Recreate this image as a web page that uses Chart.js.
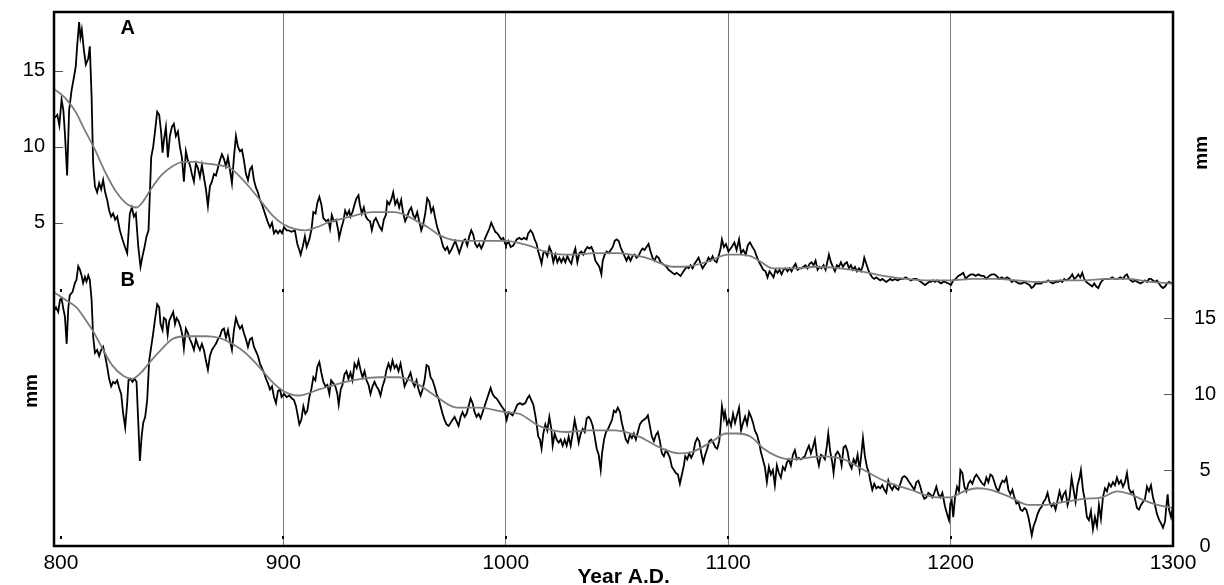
<!DOCTYPE html>
<html>
<head>
<meta charset="utf-8">
<script src="https://cdn.jsdelivr.net/npm/chart.js@4.4.1/dist/chart.umd.min.js"></script>
<style>
  html, body { margin: 0; padding: 0; background: #fff; }
  #wrap { width: 1224px; height: 585px; }
</style>
</head>
<body>
<div id="wrap"><canvas id="chart" width="1224" height="585"></canvas></div>
<script>
// tick labels
const xTicks = [800, 900, 1000, 1100, 1200, 1300];
const yTicksA = [5, 10, 15];
const yTicksB = [0, 5, 10, 15];

// series A, raw (year, mm)
const rawA = [
  [797.3,11.9],[798.4,12.1],[799.3,11.4],[800.3,13.1],[801.1,12.4],[801.8,10.9],[802.8,8.1],[803.7,12.4],[804.8,13.7],[805.9,14.6],
  [806.7,15.3],[807.3,16.6],[808.2,18.2],[808.8,17.2],[809.4,17.7],[810.3,16.4],[811.2,15.4],[812.3,15.8],[813.0,16.6],[813.8,13.3],
  [814.5,8.9],[815.3,7.4],[816.3,7.0],[817.2,7.6],[818.1,7.2],[819.0,7.8],[819.9,7.0],[820.8,6.5],[821.7,5.8],[822.6,5.4],
  [823.5,5.6],[824.4,5.2],[825.3,5.4],[826.5,4.5],[827.7,3.9],[828.8,3.4],[829.8,3.0],[830.4,4.3],[831.0,5.6],[831.9,6.0],
  [832.8,5.4],[833.7,5.6],[834.8,3.4],[835.8,2.1],[836.7,2.8],[837.6,3.4],[838.5,4.1],[839.4,4.5],[840.0,6.9],[840.6,9.3],
  [841.5,10.0],[842.4,11.1],[843.3,12.3],[844.2,12.1],[845.1,10.9],[845.7,9.6],[846.3,10.4],[847.2,11.3],[848.1,9.3],[849.0,10.7],
  [849.9,11.3],[850.8,11.5],[851.7,10.7],[852.6,11.0],[853.5,10.0],[854.4,9.3],[855.3,7.7],[856.2,9.7],[857.1,9.1],[858.0,8.8],
  [858.9,8.2],[859.8,7.7],[860.7,8.9],[861.6,8.6],[862.5,8.0],[863.4,8.8],[864.3,8.0],[865.2,7.2],[866.1,6.1],[867.0,7.4],
  [867.9,7.7],[868.8,8.2],[869.7,8.1],[870.6,8.6],[871.5,9.1],[872.4,9.5],[873.3,9.2],[874.2,8.7],[875.1,9.3],[876.0,8.5],
  [876.9,7.6],[877.8,9.3],[878.7,10.7],[879.6,10.0],[880.5,9.7],[881.4,9.8],[882.3,9.1],[883.2,8.2],[884.1,7.8],[885.0,8.5],
  [885.9,8.7],[886.8,7.8],[887.7,7.3],[888.6,7.0],[889.5,6.5],[890.4,6.2],[891.3,5.8],[892.2,5.4],[893.1,5.0],[894.0,4.7],
  [894.9,5.0],[895.8,4.3],[896.7,4.5],[897.6,4.3],[898.5,4.5],[899.4,4.3],[900.3,4.7],[901.5,4.5],
  [902.2,4.5],[903.7,4.4],[905.2,4.5],[906.3,3.6],[907.2,3.2],[907.8,2.9],[908.7,3.4],[909.7,4.1],[910.5,3.4],[911.7,3.9],
  [912.7,4.6],[913.5,5.7],[914.5,5.6],[915.3,6.3],[916.2,6.7],[917.1,6.2],[918.0,5.3],[919.2,5.1],[920.2,5.2],[921.0,4.6],
  [921.8,5.5],[922.7,5.1],[923.7,5.2],[924.7,4.5],[925.1,4.0],[926.2,4.7],[927.0,5.1],[927.8,5.8],[928.7,5.5],[929.6,5.8],
  [930.2,5.4],[931.1,5.7],[932.2,6.3],[932.9,6.6],[933.8,6.8],[934.4,6.2],[935.3,5.6],[936.2,6.0],[937.1,5.4],[938.0,5.2],
  [939.0,5.1],[939.8,4.5],[940.7,5.1],[941.6,5.3],[942.5,5.0],[943.4,4.7],[944.3,4.5],[945.2,5.2],[946.1,5.5],[946.7,6.4],
  [947.6,6.2],[948.5,6.5],[949.4,7.0],[950.3,6.2],[951.2,6.5],[952.1,6.0],[953.0,6.5],[953.9,5.6],[954.8,5.1],[955.7,5.4],
  [956.6,5.8],[957.5,6.0],[958.4,5.5],[959.3,5.3],[960.2,5.7],[961.1,5.1],[962.0,4.5],[962.9,4.9],[963.8,5.6],[964.7,6.6],
  [965.6,6.4],[966.5,5.7],[967.4,6.0],[968.3,5.3],[969.2,4.7],[970.1,4.3],[971.0,3.9],[971.9,3.4],[972.8,3.2],[973.7,3.4],
  [974.6,3.0],[975.5,3.2],[976.4,3.5],[977.3,3.8],[978.2,3.4],[979.1,3.0],[980.0,3.4],[980.9,3.8],[981.8,3.9],[982.7,3.5],
  [983.6,4.1],[984.5,4.5],[985.4,4.2],[986.3,3.6],[987.2,3.4],[988.1,3.6],[989.0,3.3],[989.9,3.6],[990.8,4.0],[991.7,4.3],
  [992.6,4.6],[993.5,5.0],[994.4,4.7],[995.3,4.4],[996.2,4.3],[997.1,4.1],[998.0,3.9],[998.9,4.0],[999.8,3.6],
  [1000.1,3.5],[1001.1,3.8],[1002.2,3.4],[1003.4,3.5],[1004.9,3.9],[1006.1,4.0],[1007.1,3.9],[1008.2,4.0],[1009.4,3.9],[1010.1,4.3],
  [1011.2,4.5],[1012.1,4.3],[1013.0,3.9],[1013.9,3.6],[1014.6,3.1],[1015.4,2.7],[1016.1,2.3],[1016.9,3.0],[1017.8,3.1],[1018.7,2.8],
  [1019.6,3.4],[1020.5,3.1],[1021.4,2.4],[1022.3,2.9],[1023.2,2.4],[1024.1,2.7],[1025.0,2.4],[1025.9,2.7],[1026.8,2.4],[1027.7,2.8],
  [1028.6,2.5],[1029.5,2.3],[1030.4,2.9],[1031.3,3.3],[1032.2,2.4],[1033.1,3.0],[1034.0,3.1],[1034.9,2.9],[1035.8,3.2],[1036.7,3.4],
  [1037.6,3.3],[1038.5,3.4],[1039.4,3.1],[1040.3,2.5],[1041.2,2.3],[1042.1,2.1],[1043.0,1.6],[1043.6,2.5],[1044.5,2.9],[1045.4,3.1],
  [1046.3,3.0],[1047.2,3.2],[1048.1,3.4],[1049.0,3.8],[1049.9,3.9],[1050.8,3.8],[1051.6,3.4],[1052.5,3.1],[1053.4,2.8],[1054.3,2.5],
  [1055.2,2.8],[1056.1,2.5],[1057.0,2.8],[1057.9,2.9],[1058.8,2.7],[1059.7,2.8],[1060.6,3.1],[1061.5,3.3],[1062.4,3.2],[1063.3,3.4],
  [1064.2,3.6],[1065.1,3.1],[1066.0,2.7],[1066.9,2.5],[1067.8,2.8],[1068.7,2.7],[1069.6,2.4],[1070.5,2.3],[1071.4,2.2],[1072.3,2.1],
  [1073.2,1.9],[1074.1,1.8],[1075.0,1.7],[1075.9,1.6],[1076.8,1.7],[1077.7,1.6],[1078.6,1.5],[1079.5,1.7],[1080.4,1.9],[1081.3,2.1],
  [1082.2,2.0],[1083.1,2.2],[1084.0,2.0],[1084.9,2.3],[1085.8,2.5],[1086.7,2.7],[1087.6,2.3],[1088.5,2.0],[1089.4,2.2],[1090.3,2.4],
  [1091.2,2.7],[1092.1,2.5],[1093.0,2.8],[1093.9,2.5],[1094.8,2.4],[1095.7,2.8],[1096.6,3.3],[1097.2,3.9],[1098.1,3.4],[1099.0,3.6],
  [1099.9,3.2],
  [1100.1,3.1],[1101.6,3.4],[1102.8,3.7],[1103.8,3.2],[1104.9,3.9],[1105.8,3.0],[1106.8,3.2],[1107.9,2.9],[1108.8,3.5],[1109.8,3.7],
  [1110.9,3.4],[1111.8,3.2],[1112.8,2.8],[1113.9,2.4],[1114.7,2.2],[1115.8,1.9],[1116.8,1.8],[1117.7,1.4],[1118.6,1.8],[1119.5,1.6],
  [1120.4,1.4],[1121.3,1.9],[1122.2,1.7],[1123.1,1.9],[1124.0,1.6],[1124.9,1.9],[1125.8,2.0],[1126.7,1.8],[1127.6,2.0],[1128.5,1.8],
  [1129.4,2.1],[1130.3,2.3],[1131.2,1.9],[1132.1,2.0],[1133.0,2.0],[1133.9,2.1],[1134.8,2.2],[1135.7,2.0],[1136.6,2.3],[1137.5,2.4],
  [1138.4,2.2],[1139.3,2.5],[1140.2,1.9],[1141.1,2.1],[1142.0,2.0],[1142.9,2.2],[1143.8,1.9],[1144.7,2.5],[1145.3,2.9],[1146.2,2.4],
  [1147.1,2.1],[1148.0,1.8],[1148.9,2.2],[1149.8,2.1],[1150.7,2.4],[1151.6,2.1],[1152.5,2.3],[1153.4,2.4],[1154.3,2.0],[1155.2,2.2],
  [1156.1,1.9],[1157.0,2.1],[1157.9,1.8],[1158.8,2.0],[1159.7,1.8],[1160.6,2.2],[1161.2,2.7],[1162.1,2.3],[1163.0,1.9],[1163.9,1.6],
  [1164.8,1.4],[1165.7,1.3],[1166.6,1.4],[1167.5,1.3],[1168.4,1.2],[1169.3,1.3],[1170.2,1.2],[1171.1,1.1],[1172.0,1.2],[1172.9,1.3],
  [1173.8,1.2],[1175.0,1.3],[1176.2,1.2],[1177.4,1.3],[1178.6,1.3],[1179.8,1.4],[1181.0,1.3],[1182.2,1.2],[1183.4,1.3],[1184.6,1.3],
  [1185.8,1.2],[1186.7,1.1],[1187.6,1.0],[1188.5,0.9],[1189.4,1.0],[1190.3,1.1],[1191.2,1.1],[1192.1,1.2],[1193.0,1.1],[1193.9,1.2],
  [1194.8,1.1],[1195.7,1.0],[1196.6,1.1],
  [1197.5,1.1],[1199.0,1.0],[1200.2,0.9],[1201.2,1.2],[1202.3,1.3],[1203.5,1.5],[1204.7,1.6],[1205.7,1.7],[1206.8,1.3],[1208.0,1.5],
  [1209.2,1.6],[1210.2,1.6],[1211.3,1.5],[1212.5,1.6],[1213.7,1.5],[1214.9,1.5],[1216.1,1.3],[1217.3,1.5],[1218.5,1.6],[1219.7,1.6],
  [1220.7,1.5],[1221.8,1.3],[1223.0,1.4],[1224.2,1.3],[1225.4,1.4],[1226.6,1.3],[1227.5,1.1],[1228.4,1.2],[1229.6,1.1],[1230.8,1.0],
  [1232.0,1.0],[1233.2,1.1],[1234.3,1.0],[1235.5,0.9],[1236.4,0.7],[1237.3,0.8],[1238.2,1.0],[1239.4,1.0],[1240.6,1.0],[1241.8,1.1],
  [1243.0,1.1],[1243.9,1.2],[1244.8,1.1],[1246.0,1.0],[1247.2,1.1],[1248.4,1.1],[1249.3,1.2],[1250.2,1.1],[1251.1,1.3],[1252.0,1.2],
  [1253.0,1.3],[1253.8,1.4],[1254.7,1.6],[1255.6,1.3],[1256.5,1.4],[1257.4,1.6],[1258.3,1.4],[1259.2,1.7],[1260.1,1.3],[1261.0,1.1],
  [1261.9,1.0],[1262.8,0.9],[1263.7,0.8],[1264.6,1.0],[1265.5,0.8],[1266.4,0.7],[1267.3,1.0],[1268.2,1.2],[1269.1,1.3],[1270.3,1.3],
  [1271.5,1.3],[1272.7,1.4],[1273.9,1.3],[1275.1,1.3],[1276.3,1.4],[1277.5,1.3],[1278.4,1.5],[1279.3,1.6],[1280.2,1.3],[1281.1,1.2],
  [1282.0,1.1],[1282.9,1.2],[1284.1,1.1],[1285.3,1.0],[1286.5,1.1],[1287.4,1.2],[1288.3,1.1],[1289.2,1.3],[1290.1,1.3],[1291.0,1.2],
  [1291.9,1.1],[1292.8,1.2],[1293.7,1.0],[1294.7,0.8],[1295.5,0.7],[1296.4,0.8],[1297.3,1.0],[1298.2,1.1],[1299.1,1.0],[1300.0,1.1]
];

// series A, smoothed
const smoothA = [
  [796.9,13.8],[802,13.2],[807,12.2],[810,11.3],[815,9.9],[820,8.3],[825,7.0],[830,6.2],[834,6.0],[837,6.4],
  [840,7.1],[845,8.1],[850,8.7],[855,9.0],[860,9.0],[865,8.9],[870,8.8],[876,8.6],[880,8.1],[885,7.3],
  [890,6.4],[895,5.5],[900,4.9],[905,4.6],[910,4.5],[915,4.7],[920,5.0],[930,5.4],[940,5.7],[950,5.7],
  [955,5.5],[960,5.1],[965,4.7],[970,4.2],[975,3.9],[980,3.8],[990,3.8],[1000,3.8],[1010,3.5],[1020,3.0],
  [1030,2.9],[1040,3.0],[1050,3.0],[1060,2.8],[1065,2.6],[1070,2.3],[1075,2.1],[1080,2.1],[1090,2.4],[1100,2.9],
  [1105,2.9],[1110,2.8],[1115,2.4],[1120,2.0],[1130,2.0],[1140,2.1],[1150,2.0],[1160,1.8],[1170,1.5],[1180,1.3],
  [1190,1.2],[1200,1.2],[1210,1.3],[1220,1.3],[1230,1.2],[1240,1.1],[1250,1.2],[1260,1.2],[1270,1.3],[1280,1.3],
  [1290,1.1],[1300,1.0]
];

// series B, raw (year, mm)
const rawB = [
  [796.9,15.5],[797.8,15.7],[798.8,15.4],[799.6,16.2],[800.3,16.3],[801.1,15.6],[801.8,15.1],[802.6,13.3],[803.3,15.6],[804.0,16.5],
  [805.2,16.7],[806.3,17.3],[807.0,17.5],[807.8,18.4],[808.5,18.2],[809.3,17.8],[810.0,17.3],[810.8,17.7],[811.5,17.4],[812.3,17.8],
  [813.0,17.5],[813.8,16.2],[814.5,13.8],[815.3,12.7],[816.3,12.9],[817.2,12.5],[818.1,12.9],[819.0,13.1],[819.9,12.5],[820.8,11.8],
  [821.7,11.0],[822.6,10.5],[823.5,10.8],[824.4,10.7],[825.3,10.9],[826.2,10.4],[827.1,10.0],[828.0,8.7],[828.9,7.8],[829.8,9.4],
  [830.4,10.9],[831.3,11.0],[832.2,10.8],[833.1,11.0],[834.0,10.8],[834.8,8.1],[835.5,5.6],[836.3,7.2],[837.0,8.1],[837.9,8.5],
  [838.8,9.6],[839.7,12.2],[840.8,13.3],[841.5,14.0],[842.3,14.9],[843.3,15.9],[844.2,15.7],[844.8,14.6],[845.7,14.2],[846.3,15.0],
  [847.2,14.9],[848.0,13.9],[848.7,14.8],[849.6,15.1],[850.5,15.4],[851.3,14.6],[852.0,15.0],[852.9,14.8],[853.8,14.4],[854.7,13.8],
  [855.3,13.0],[856.2,14.3],[857.1,14.0],[858.0,13.6],[858.9,13.3],[859.8,12.9],[860.7,13.6],[861.6,13.2],[862.5,12.9],[863.4,13.3],
  [864.3,12.9],[865.2,12.2],[866.1,11.6],[867.0,12.5],[867.9,12.9],[868.8,13.1],[869.7,13.3],[870.6,13.6],[871.5,13.8],[872.4,14.2],
  [873.3,14.3],[874.2,13.7],[875.1,14.2],[876.0,13.5],[876.9,12.9],[877.8,14.2],[878.7,15.0],[879.6,14.6],[880.5,14.3],[881.4,14.5],
  [882.3,14.0],[883.2,13.6],[884.1,13.1],[885.0,13.6],[885.9,13.7],[886.8,13.1],[887.7,12.8],[888.6,12.5],[889.5,12.0],[890.4,11.7],
  [891.3,11.4],[892.2,11.0],[893.1,10.7],[894.0,10.3],[894.9,10.5],[895.8,9.8],[896.7,9.4],[897.6,10.2],
  [898.5,10.3],[899.2,9.8],[900.3,10.0],[901.5,9.8],[902.7,9.9],[903.9,9.7],[904.8,9.6],[905.7,9.2],[906.6,8.5],[907.2,8.0],
  [908.1,8.3],[909.0,9.2],[909.9,8.7],[910.8,8.9],[911.7,9.8],[912.6,10.3],[913.5,11.1],[914.4,10.9],[915.3,11.8],[916.2,12.1],
  [917.1,11.4],[918.0,10.8],[918.9,10.5],[919.8,10.6],[920.7,10.0],[921.5,10.9],[922.5,10.7],[923.4,10.5],[924.3,10.0],[924.9,9.3],
  [925.8,10.3],[926.6,10.6],[927.5,11.3],[928.4,11.5],[929.3,11.0],[930.2,11.4],[931.1,10.9],[932.0,12.0],[933.0,11.7],[933.8,12.2],
  [934.7,11.6],[935.6,11.1],[936.5,11.5],[937.4,10.9],[938.3,10.6],[939.2,10.0],[940.1,10.5],[941.0,10.8],[941.9,10.5],[942.8,10.3],
  [943.7,9.9],[944.6,10.5],[945.5,10.9],[946.4,11.6],[947.3,12.0],[948.2,11.6],[949.1,12.2],[950.0,11.7],[950.9,11.9],[951.8,11.5],
  [952.7,12.0],[953.6,11.3],[954.5,10.5],[955.4,10.8],[956.3,11.1],[957.2,11.4],[958.1,10.8],[959.0,10.5],[959.9,10.9],[960.8,10.3],
  [961.7,9.9],[962.6,10.3],[963.5,10.9],[964.4,11.9],[965.3,11.8],[966.2,11.1],[967.1,10.9],[968.0,10.5],[968.9,10.0],[969.8,9.7],
  [970.7,9.2],[971.6,8.7],[972.5,8.3],[973.4,8.0],[974.3,7.9],[975.2,8.1],[976.1,8.3],[977.0,8.5],[977.9,8.2],[978.8,7.9],
  [979.7,8.5],[980.6,8.8],[981.5,8.5],[982.4,8.7],[983.3,9.2],[984.2,9.7],[985.1,9.4],[986.0,8.8],[986.9,8.5],[987.8,8.7],
  [988.7,8.4],[989.6,8.8],[990.5,9.2],[991.4,9.6],[992.3,10.0],[993.2,10.4],[994.1,10.0],[995.0,9.8],[995.9,9.7],[996.8,9.5],
  [997.7,9.3],[998.6,9.1],[999.5,8.9],
  [1000.4,8.3],[1001.3,8.8],[1002.2,8.7],[1003.1,8.6],[1004.1,8.9],[1005.2,9.3],[1006.4,9.4],[1007.6,9.3],[1008.8,9.4],[1009.7,9.7],
  [1010.6,9.9],[1011.5,9.6],[1012.4,9.3],[1013.3,8.6],[1013.9,8.0],[1014.6,7.2],[1015.4,7.0],[1016.1,6.4],[1016.9,7.4],[1017.8,8.0],
  [1018.7,7.6],[1019.6,8.5],[1020.5,7.7],[1021.1,6.6],[1022.0,7.4],[1022.9,7.0],[1023.8,6.8],[1024.7,7.0],[1025.6,6.6],[1026.5,7.0],
  [1027.4,6.6],[1028.3,7.2],[1029.2,6.6],[1030.1,7.4],[1031.0,8.3],[1031.9,7.6],[1032.8,6.8],[1033.7,7.4],[1034.6,7.7],[1035.5,7.5],
  [1036.4,8.4],[1037.3,8.5],[1038.2,8.3],[1039.1,7.9],[1040.0,7.2],[1040.9,6.4],[1041.8,6.0],[1042.7,5.0],[1043.3,6.1],[1044.2,7.0],
  [1045.1,7.5],[1046.0,7.7],[1046.9,8.0],[1047.8,8.3],[1048.6,8.9],[1049.5,8.8],[1050.4,9.1],[1051.4,8.8],[1052.2,8.1],[1053.2,7.5],
  [1054.0,7.0],[1054.9,6.8],[1055.8,7.3],[1056.7,7.1],[1057.6,7.4],[1058.5,7.0],[1059.4,7.5],[1060.3,8.0],[1061.2,8.2],[1062.1,8.3],
  [1063.0,8.4],[1063.9,8.6],[1064.8,7.9],[1065.7,7.2],[1066.6,6.9],[1067.5,7.3],[1068.4,7.5],[1069.3,6.9],[1070.2,6.1],[1071.1,5.9],
  [1072.0,6.3],[1072.9,6.1],[1073.8,5.8],[1074.7,5.2],[1075.6,5.0],[1076.5,4.8],[1077.4,4.7],[1078.3,4.1],[1079.2,4.7],[1080.1,5.3],
  [1080.7,5.9],[1081.6,5.7],[1082.5,6.1],[1083.4,5.8],[1084.3,6.1],[1085.2,6.8],[1086.1,7.1],[1087.0,6.9],[1087.9,6.1],[1088.8,5.5],
  [1089.7,6.0],[1090.6,6.4],[1091.5,6.9],[1092.4,7.0],[1093.3,6.8],[1094.2,6.5],[1095.1,6.4],[1096.0,6.9],[1096.6,7.9],[1097.2,9.2],
  [1098.1,8.4],
  [1098.6,8.8],[1099.5,8.0],[1100.4,8.3],[1101.3,7.9],[1102.2,8.7],[1103.1,8.1],[1104.0,8.6],[1104.9,9.1],[1105.8,7.6],[1106.7,8.1],
  [1107.6,8.5],[1108.5,8.0],[1109.4,8.8],[1110.3,8.5],[1111.2,8.1],[1112.0,7.6],[1113.0,7.3],[1113.9,6.8],[1114.7,6.2],[1115.6,5.7],
  [1116.5,5.2],[1117.4,4.2],[1118.3,5.2],[1119.2,4.7],[1120.1,5.0],[1121.0,4.0],[1121.9,5.3],[1122.8,4.8],[1123.7,4.5],[1124.6,5.2],
  [1125.5,5.0],[1126.4,5.5],[1127.3,5.7],[1128.2,5.3],[1129.1,6.0],[1130.0,6.3],[1130.9,5.7],[1131.8,5.8],[1132.7,5.7],[1133.6,5.8],
  [1134.5,5.9],[1135.4,6.3],[1136.3,6.6],[1137.2,6.1],[1138.1,6.5],[1139.0,7.0],[1139.9,5.9],[1140.8,5.3],[1141.7,6.0],[1142.6,5.9],
  [1143.5,5.7],[1144.4,6.6],[1145.0,7.4],[1145.9,6.2],[1146.8,5.5],[1147.4,4.8],[1148.3,6.0],[1149.2,6.2],[1150.1,6.0],[1151.0,5.3],
  [1151.9,6.5],[1152.8,6.6],[1153.7,6.2],[1154.6,5.4],[1155.5,5.1],[1156.4,5.7],[1157.3,5.4],[1158.2,6.0],[1159.1,5.0],[1160.0,6.2],
  [1160.6,7.1],[1161.5,5.9],[1162.4,5.2],[1163.3,4.8],[1163.9,4.3],[1164.8,3.7],[1165.7,4.1],[1166.6,3.8],[1167.5,3.9],[1168.4,3.8],
  [1169.3,4.0],[1170.2,3.7],[1171.1,3.5],[1172.0,4.3],[1172.9,3.9],[1173.8,3.7],[1174.7,4.0],[1175.6,3.8],[1176.5,3.7],[1177.4,4.1],
  [1178.3,4.5],[1179.2,4.6],[1180.1,4.5],[1181.0,4.3],[1181.9,4.1],[1182.8,3.9],[1183.7,3.7],[1184.6,4.2],[1185.5,4.3],[1186.4,3.9],
  [1187.3,3.4],[1188.2,3.1],[1189.1,3.2],[1190.0,3.5],[1190.9,3.4],[1191.8,3.2],[1192.7,3.5],[1193.6,3.9],[1194.5,3.4],[1195.4,3.2],
  [1196.3,3.5],
  [1197.5,2.6],[1198.4,2.1],[1199.3,1.7],[1199.9,2.8],[1200.5,3.0],[1201.2,1.9],[1202.0,3.2],[1202.9,3.9],[1203.8,3.6],[1204.4,5.0],
  [1205.3,4.8],[1206.2,3.9],[1207.1,3.6],[1208.0,4.1],[1208.9,4.3],[1209.8,4.1],[1210.7,4.5],[1211.6,4.7],[1212.5,4.5],[1213.4,4.3],
  [1214.3,4.1],[1215.2,4.0],[1216.1,4.5],[1217.0,4.2],[1217.9,4.7],[1218.8,4.6],[1219.7,4.2],[1220.6,3.8],[1221.5,3.6],[1222.4,4.0],
  [1223.3,4.3],[1224.2,4.2],[1225.1,4.5],[1226.0,3.7],[1226.9,3.4],[1227.8,3.7],[1228.7,3.2],[1229.6,2.8],[1230.5,2.9],[1231.4,2.4],
  [1232.3,2.3],[1233.2,2.5],[1234.0,2.4],[1235.0,1.9],[1235.9,1.2],[1236.5,0.7],[1237.3,1.3],[1238.3,1.7],[1239.1,2.1],[1240.0,2.4],
  [1241.0,2.6],[1241.8,2.9],[1242.7,3.1],[1243.6,3.5],[1244.5,2.9],[1245.4,2.6],[1246.3,2.8],[1247.2,2.4],[1248.1,3.0],[1249.0,3.6],
  [1250.0,3.0],[1250.8,3.4],[1251.7,3.6],[1252.6,2.7],[1253.5,3.2],[1254.4,4.5],[1255.3,3.7],[1256.2,2.9],[1257.1,4.0],[1258.0,4.5],
  [1258.6,5.0],[1259.5,3.7],[1260.4,3.0],[1261.3,1.9],[1262.2,1.7],[1263.1,2.3],[1264.0,1.1],[1264.9,1.9],[1265.8,1.3],[1266.7,2.7],
  [1267.6,1.8],[1268.5,3.2],[1269.4,3.8],[1270.3,3.6],[1271.2,4.1],[1272.1,3.9],[1273.0,4.2],[1273.9,4.0],[1274.8,4.5],[1275.7,4.1],
  [1276.6,4.3],[1277.5,3.9],[1278.4,4.2],[1279.3,4.8],[1280.2,3.8],[1281.1,3.5],[1282.0,3.6],[1282.9,3.1],[1283.8,2.5],[1284.7,2.4],
  [1285.6,2.7],[1286.5,2.9],[1287.4,3.1],[1288.3,3.9],[1289.2,3.6],[1290.1,4.0],[1291.0,3.2],[1291.9,2.7],[1292.8,2.1],[1293.8,1.7],
  [1294.6,1.5],[1295.5,1.2],[1296.4,1.6],[1297.0,2.6],[1297.6,3.4],[1298.2,2.4],[1299.1,1.9],[1300.0,2.6]
];

// series B, smoothed
const smoothB = [
  [796.9,16.7],[802,16.2],[807,15.7],[811,14.9],[815,14.0],[819,12.9],[823,11.9],[828,11.2],[832,11.0],[836,11.4],
  [840,12.1],[845,12.9],[850,13.6],[856,13.8],[865,13.8],[871,13.7],[877,13.3],[883,12.7],[889,11.8],[895,10.8],
  [900,10.2],[907,9.9],[916,10.3],[928,10.8],[935,11.0],[943,11.1],[952,11.1],[961,10.6],[969,9.8],[978,9.1],
  [988,9.1],[1000,8.8],[1006,8.7],[1015,7.9],[1027,7.5],[1037,7.6],[1049,7.6],[1060,7.2],[1069,6.5],[1078,6.1],
  [1084,6.2],[1093,6.9],[1099,7.4],[1104,7.4],[1110,7.2],[1116,6.4],[1122,5.9],[1128,5.7],[1143,5.9],[1152,5.7],
  [1161,5.0],[1170,4.3],[1182,3.7],[1194,3.2],[1200,3.2],[1206,3.6],[1212,3.8],[1218,3.7],[1227,3.2],[1235,2.7],
  [1242,2.7],[1251,2.9],[1260,3.1],[1268,3.2],[1275,3.6],[1281,3.4],[1287,3.0],[1293,2.7],[1300,2.5]
];

const FONT = 'Liberation Sans, Arial, Helvetica, sans-serif';
const toXY = (arr) => arr.map(([x, y]) => ({ x, y }));

// frame, inner tick marks and the free-standing labels
const decor = {
    id: 'decor',
    afterDraw(chart) {
        const { ctx, chartArea: a, scales } = chart;
        const xs = scales.x, ya = scales.yA, yb = scales.yB;
        ctx.save();

        ctx.strokeStyle = '#555';
        ctx.lineWidth = 1;
        ctx.beginPath();
        yTicksA.forEach(v => {
            const y = Math.round(ya.getPixelForValue(v)) + 0.5;
            ctx.moveTo(a.left, y); ctx.lineTo(a.left + 9, y);
        });
        yTicksB.forEach(v => {
            const y = Math.round(yb.getPixelForValue(v)) + 0.5;
            ctx.moveTo(a.right - 9, y); ctx.lineTo(a.right, y);
        });
        ctx.stroke();

        // little year marks at the foot of each panel
        ctx.fillStyle = '#000';
        xTicks.forEach(v => {
            const px = Math.round(xs.getPixelForValue(v));
            ctx.fillRect(px - 1, Math.round(ya.getPixelForValue(0.6)) - 1, 2, 3);
            ctx.fillRect(px - 1, Math.round(yb.getPixelForValue(0.6)) - 1, 2, 3);
        });

        ctx.strokeStyle = '#000';
        ctx.lineWidth = 2.5;
        ctx.strokeRect(a.left, a.top, a.right - a.left, a.bottom - a.top);

        ctx.fillStyle = '#000';
        ctx.textAlign = 'center';
        ctx.textBaseline = 'middle';
        ctx.font = 'bold 20px ' + FONT;
        ctx.fillText('A', xs.getPixelForValue(830), ya.getPixelForValue(17.8));
        ctx.fillText('B', xs.getPixelForValue(830), yb.getPixelForValue(17.5));

        ctx.font = 'bold 21px ' + FONT;
        ctx.fillText('Year A.D.', xs.getPixelForValue(1053), 577);

        ctx.font = 'bold 19px ' + FONT;
        ctx.save();
        ctx.translate(32, yb.getPixelForValue(10.2));
        ctx.rotate(-Math.PI / 2);
        ctx.fillText('mm', 0, 0);
        ctx.restore();
        ctx.save();
        ctx.translate(1202, ya.getPixelForValue(9.6));
        ctx.rotate(-Math.PI / 2);
        ctx.fillText('mm', 0, 0);
        ctx.restore();

        ctx.restore();
    }
};

const setTicks = (values) => (scale) => { scale.ticks = values.map(v => ({ value: v })); };
// fixed box sizes, and no extra room kept for half-labels at the ends
const fixWidth = (w) => (s) => { s.width = w; s.paddingTop = 0; s.paddingBottom = 0; };

new Chart(document.getElementById('chart'), {
    type: 'line',
    data: {
        datasets: [
            { label: 'A smoothed', data: toXY(smoothA), yAxisID: 'yA', borderColor: '#7d7d7d', borderWidth: 1.8, cubicInterpolationMode: 'monotone', order: 0 },
            { label: 'A', data: toXY(rawA), yAxisID: 'yA', borderColor: '#000', borderWidth: 1.8, order: 1 },
            { label: 'B smoothed', data: toXY(smoothB), yAxisID: 'yB', borderColor: '#7d7d7d', borderWidth: 1.8, cubicInterpolationMode: 'monotone', order: 0 },
            { label: 'B', data: toXY(rawB), yAxisID: 'yB', borderColor: '#000', borderWidth: 1.8, order: 1 }
        ]
    },
    options: {
        responsive: false,
        animation: false,
        events: [],
        layout: { padding: { top: 12, left: 0, right: 0, bottom: 0 } },
        elements: {
            point: { radius: 0 },
            line: { tension: 0, fill: false, borderJoinStyle: 'miter' }
        },
        plugins: {
            legend: { display: false },
            tooltip: { enabled: false }
        },
        scales: {
            x: {
                type: 'linear',
                min: 796.9,
                max: 1300,
                afterBuildTicks: setTicks(xTicks),
                afterFit: (s) => { s.height = 39; s.paddingLeft = 0; s.paddingRight = 0; },
                border: { display: false },
                grid: {
                    drawTicks: false,
                    color: (c) => (c.tick && (c.tick.value === 800 || c.tick.value === 1300)) ? 'rgba(0,0,0,0)' : '#7a7a7a',
                    lineWidth: 1
                },
                ticks: {
                    color: '#000',
                    font: { family: FONT, size: 21 },
                    padding: 5,
                    maxRotation: 0,
                    autoSkip: false,
                    callback: (v) => v
                }
            },
            yA: {
                position: 'left',
                min: -16.27,
                max: 18.86,
                afterBuildTicks: setTicks(yTicksA),
                afterFit: fixWidth(54),
                border: { display: false },
                grid: { display: false, drawTicks: false },
                ticks: {
                    color: '#000',
                    font: { family: FONT, size: 20 },
                    padding: 9,
                    crossAlign: 'near'
                }
            },
            yB: {
                position: 'right',
                min: 0,
                max: 35.13,
                afterBuildTicks: setTicks(yTicksB),
                afterFit: fixWidth(51),
                border: { display: false },
                grid: { display: false, drawTicks: false },
                ticks: {
                    color: '#000',
                    font: { family: FONT, size: 20 },
                    padding: 21,
                    crossAlign: 'center'
                }
            }
        }
    },
    plugins: [decor]
});
</script>
</body>
</html>
